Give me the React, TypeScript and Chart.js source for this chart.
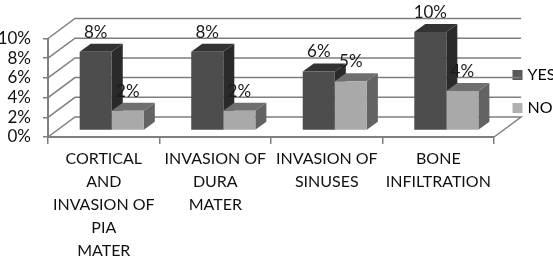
import React, { useEffect, useRef } from "react";
import { Chart, registerables } from "chart.js";

Chart.register(...registerables);

const categories = [
  ["CORTICAL", "AND", "INVASION OF", "PIA", "MATER"],
  ["INVASION OF", "DURA", "MATER"],
  ["INVASION OF", "SINUSES"],
  ["BONE", "INFILTRATION"],
];
const yesValues = [8, 8, 6, 10];
const noValues = [2, 2, 5, 4];
const yTicks = [0, 2, 4, 6, 8, 10];

const FONT = "Lato, 'Open Sans', sans-serif";
const WALL = { dx: 27, dy: -20 };
const BAR_SHIFT = { dx: 8, dy: -6.5 };
const BAR_DEPTH = { dx: 11, dy: -8 };
const faces = [
  { top: "#333333", side: "#2a2a2a" },
  { top: "#6f6f6f", side: "#636363" },
];

const poly = (ctx: CanvasRenderingContext2D, pts: number[][], fill: string) => {
  ctx.beginPath();
  pts.forEach(([x, y], i) => (i ? ctx.lineTo(x, y) : ctx.moveTo(x, y)));
  ctx.closePath();
  ctx.fillStyle = fill;
  ctx.fill();
};

const threeD = {
  id: "threeD",
  afterLayout(chart: any) {
    const lg = chart.legend;
    if (lg) {
      lg.left = 498.5;
      lg.right = 553;
      lg.top = 50;
      lg.bottom = 250;
    }
  },
  beforeDatasetsDraw(chart: any) {
    const { ctx, chartArea: a, scales } = chart;
    ctx.save();
    ctx.strokeStyle = "#7f7f7f";
    ctx.lineWidth = 1.5;
    yTicks.forEach((v) => {
      const y = scales.y.getPixelForValue(v);
      ctx.beginPath();
      ctx.moveTo(a.left, y);
      ctx.lineTo(a.left + WALL.dx, y + WALL.dy);
      ctx.lineTo(a.right + WALL.dx, y + WALL.dy);
      if (v === 0) ctx.lineTo(a.right, y);
      ctx.stroke();
    });
    chart.data.datasets.forEach((_: any, di: number) => {
      chart.getDatasetMeta(di).data.forEach((bar: any) => {
        const l = bar.x - bar.width / 2 + BAR_SHIFT.dx;
        const r = bar.x + bar.width / 2 + BAR_SHIFT.dx;
        const t = bar.y + BAR_SHIFT.dy;
        const b = bar.base + BAR_SHIFT.dy;
        const { dx, dy } = BAR_DEPTH;
        poly(ctx, [[r, t], [r + dx, t + dy], [r + dx, b + dy], [r, b]], faces[di].side);
        poly(ctx, [[l, t], [l + dx, t + dy], [r + dx, t + dy], [r, t]], faces[di].top);
      });
    });
    ctx.restore();
  },
  beforeDatasetDraw(chart: any) {
    chart.ctx.save();
    chart.ctx.translate(BAR_SHIFT.dx, BAR_SHIFT.dy);
  },
  afterDatasetDraw(chart: any) {
    chart.ctx.restore();
  },
  afterDatasetsDraw(chart: any) {
    const { ctx } = chart;
    ctx.save();
    ctx.fillStyle = "#1a1a1a";
    ctx.font = `17px ${FONT}`;
    ctx.textAlign = "center";
    ctx.textBaseline = "middle";
    chart.data.datasets.forEach((ds: any, di: number) => {
      chart.getDatasetMeta(di).data.forEach((bar: any, i: number) => {
        ctx.fillText(`${ds.data[i]}%`, bar.x + BAR_SHIFT.dx, bar.y + BAR_SHIFT.dy - 19.5);
      });
    });
    ctx.restore();
  },
};

export default function App() {
  const ref = useRef<HTMLCanvasElement>(null);
  useEffect(() => {
    const chart = new Chart(ref.current!, {
      type: "bar",
      data: {
        labels: categories,
        datasets: [
          { label: "YES", data: yesValues, backgroundColor: "#4d4d4d", borderWidth: 0, clip: false as any },
          { label: "NO", data: noValues, backgroundColor: "#a9a9a9", borderWidth: 0, clip: false as any },
        ],
      },
      options: {
        animation: false,
        responsive: false,
        layout: { padding: { top: 38.5, right: -8, left: 0, bottom: 0 } },
        datasets: { bar: { categoryPercentage: 0.575, barPercentage: 1 } },
        scales: {
          x: {
            grid: { drawOnChartArea: false, tickLength: 7, color: "#7f7f7f", lineWidth: 1.5 },
            border: { color: "#7f7f7f", width: 2 },
            ticks: {
              color: "#111",
              font: { family: FONT, size: 16, lineHeight: "23px" as any },
              maxRotation: 0,
              autoSkip: false,
              padding: 3,
            },
            afterFit: (s: any) => { s.height = 119; },
          },
          y: {
            min: 0,
            max: 10,
            grid: { drawOnChartArea: false, tickLength: 5, color: "#7f7f7f", lineWidth: 1.5 },
            border: { color: "#7f7f7f", width: 2 },
            ticks: {
              stepSize: 2,
              autoSkip: false,
              color: "#111",
              font: { family: FONT, size: 17 },
              padding: 12,
              callback: (v: any) => `${v}%`,
            },
            afterFit: (s: any) => { s.width = 48; },
          },
        },
        plugins: {
          tooltip: { enabled: false },
          legend: {
            position: "right",
            align: "start",
            labels: {
              color: "#111",
              usePointStyle: true,
              boxWidth: 4,
              boxHeight: 10,
              padding: 17,
              font: { family: FONT, size: 16 },
              generateLabels: () => [
                { text: "YES", fillStyle: "#595959", strokeStyle: "#595959", lineWidth: 0, pointStyle: "rect", datasetIndex: 0 },
                { text: "NO", fillStyle: "#b0b0b0", strokeStyle: "#b0b0b0", lineWidth: 0, pointStyle: "rect", datasetIndex: 1 },
              ],
            },
          },
        },
      },
      plugins: [threeD],
    } as any);
    return () => chart.destroy();
  }, []);
  return (
    <div style={{ position: "fixed", left: 0, top: 0, width: 553, height: 256, background: "#fff" }}>
      <canvas ref={ref} width={553} height={256} style={{ display: "block" }} />
    </div>
  );
}
